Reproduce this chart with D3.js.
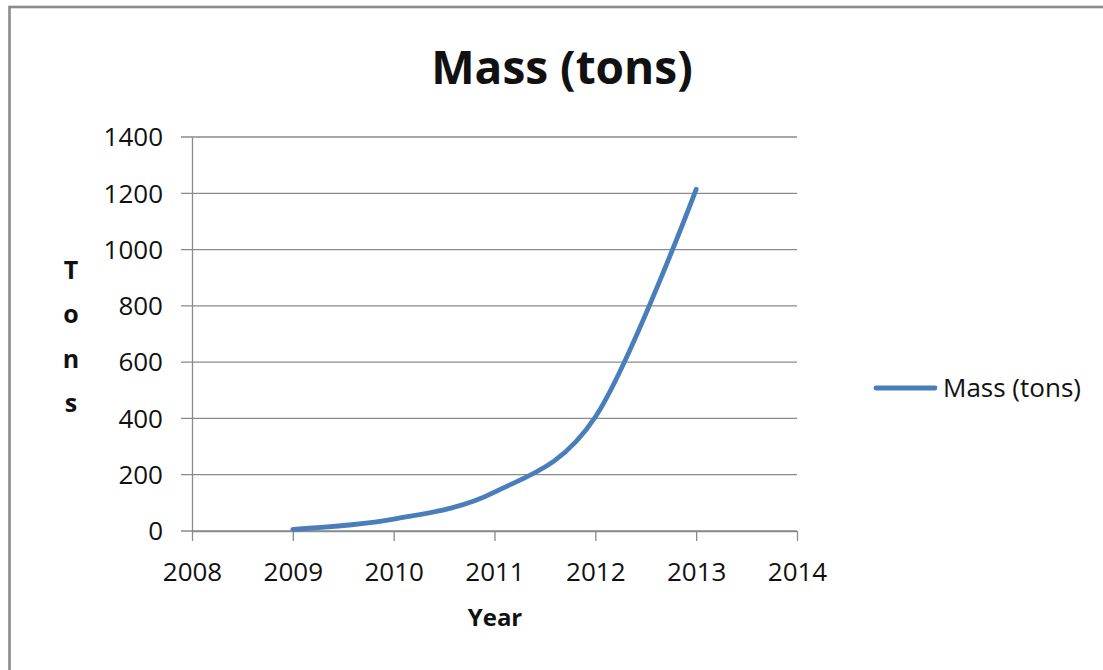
<html>
<head>
<meta charset="utf-8">
<script src="https://d3js.org/d3.v7.min.js"></script>
<style>
    body { margin: 0; background: #fff; }
    text { font-family: "Open Sans", "Liberation Sans", sans-serif; fill: #111; }
</style>
</head>
<body>
<div id="chart"></div>
<script>
    // values
    var years = [2009, 2010, 2011, 2012, 2013];
    var mass = [6, 42, 138, 405, 1214];
    var xTicks = [2008, 2009, 2010, 2011, 2012, 2013, 2014];
    var yTicks = [0, 200, 400, 600, 800, 1000, 1200, 1400];
    var seriesName = "Mass (tons)";

    var W = 1103, H = 670;
    var plot = { left: 192, right: 797, top: 137, bottom: 531 };
    var gridColor = "#8a8a8a";
    var lineColor = "#4a7ebb";

    var svg = d3.select("#chart").append("svg")
        .attr("width", W)
        .attr("height", H);

    // outer frame (only top and left edges show)
    svg.append("rect")
        .attr("x", 9.5).attr("y", 7)
        .attr("width", 1300).attr("height", 900)
        .attr("fill", "none")
        .attr("stroke", "#8a8a8a")
        .attr("stroke-width", 2.6);

    var xs = d3.scaleLinear().domain([2008, 2014]).range([plot.left, plot.right]);
    var ys = d3.scaleLinear().domain([0, 1400]).range([plot.bottom, plot.top]);

    // horizontal gridlines
    svg.append("g").selectAll("line")
        .data(yTicks)
        .enter().append("line")
        .attr("x1", plot.left - 11)
        .attr("x2", plot.right)
        .attr("y1", function (d) { return ys(d); })
        .attr("y2", function (d) { return ys(d); })
        .attr("stroke", gridColor)
        .attr("stroke-width", 1.3);

    // Y axis
    var yAxis = svg.append("g")
        .attr("transform", "translate(" + plot.left + ",0)")
        .call(d3.axisLeft(ys).tickValues(yTicks).tickFormat(d3.format("d"))
            .tickSize(11).tickPadding(18).tickSizeOuter(0));
    yAxis.select(".domain").attr("stroke", gridColor).attr("stroke-width", 1.3);
    yAxis.selectAll(".tick line").attr("stroke", "none");
    yAxis.selectAll("text")
        .style("font-size", "26px")
        .attr("dy", "0.34em")
        .attr("fill", "#111");

    // X axis
    var xAxis = svg.append("g")
        .attr("transform", "translate(0," + plot.bottom + ")")
        .call(d3.axisBottom(xs).tickValues(xTicks).tickFormat(d3.format("d")).tickSize(10).tickSizeOuter(0));
    xAxis.select(".domain").attr("stroke", gridColor).attr("stroke-width", 1.3);
    xAxis.selectAll(".tick line").attr("stroke", gridColor).attr("stroke-width", 1.3);
    xAxis.selectAll("text")
        .style("font-size", "26px")
        .attr("dy", null)
        .attr("y", 50)
        .attr("fill", "#111");

    // smooth line like the spreadsheet one
    var line = d3.line()
        .x(function (d, i) { return xs(years[i]); })
        .y(function (d) { return ys(d); })
        .curve(d3.curveCardinal.tension(0));

    svg.append("path")
        .attr("d", line(mass))
        .attr("fill", "none")
        .attr("stroke", lineColor)
        .attr("stroke-width", 4.8)
        .attr("stroke-linecap", "round")
        .attr("stroke-linejoin", "round");

    // title
    svg.append("text")
        .attr("x", 562)
        .attr("y", 84)
        .attr("text-anchor", "middle")
        .style("font-size", "46px")
        .style("font-weight", "bold")
        .attr("fill", "#000")
        .text(seriesName);

    // x label
    svg.append("text")
        .attr("x", 495)
        .attr("y", 626)
        .attr("text-anchor", "middle")
        .style("font-size", "24px")
        .style("font-weight", "bold")
        .attr("fill", "#000")
        .text("Year");

    // y label, one letter per row
    svg.append("g").selectAll("text")
        .data("Tons".split(""))
        .enter().append("text")
        .attr("x", 71)
        .attr("y", function (d, i) { return 279 + i * 44.3; })
        .attr("text-anchor", "middle")
        .style("font-size", "25px")
        .style("font-weight", "bold")
        .attr("fill", "#000")
        .text(function (d) { return d; });

    // legend
    var leg = svg.append("g").attr("transform", "translate(874,388)");
    leg.append("line")
        .attr("x1", 2).attr("x2", 61)
        .attr("y1", 0).attr("y2", 0)
        .attr("stroke", lineColor)
        .attr("stroke-width", 4.8)
        .attr("stroke-linecap", "round");
    leg.append("text")
        .attr("x", 69)
        .attr("y", 9)
        .style("font-size", "26px")
        .attr("fill", "#111")
        .text(seriesName);
</script>
</body>
</html>
